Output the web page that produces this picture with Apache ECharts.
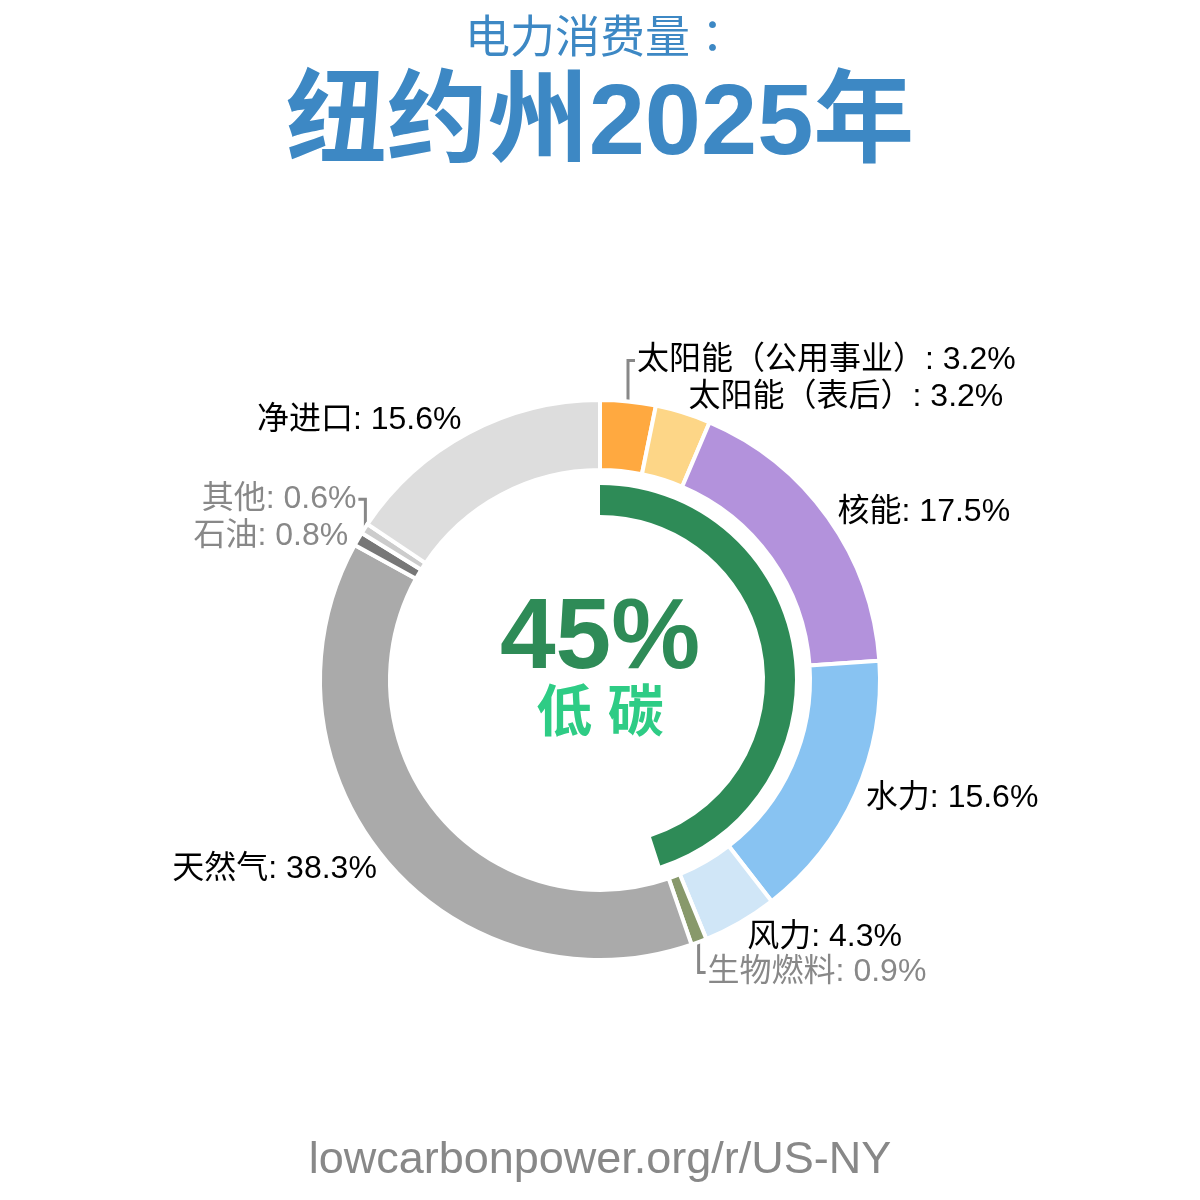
<!DOCTYPE html>
<html>
<head>
<meta charset="utf-8">
<script src="https://cdn.jsdelivr.net/npm/echarts@6/dist/echarts.min.js"></script>
<style>
html,body{margin:0;padding:0;background:#fff;}
#main{width:1200px;height:1200px;}
</style>
</head>
<body>
<div id="main"></div>
<script>
// ---- data ----
const categories = ['太阳能（公用事业）', '太阳能（表后）', '核能', '水力', '风力', '生物燃料', '天然气', '石油', '其他', '净进口'];
const shares = [3.2, 3.2, 17.5, 15.6, 4.3, 0.9, 38.3, 0.8, 0.6, 15.6];
const lowCarbonShare = [45];
const titleSub = '电力消费量：';
const titleMain = '纽约州2025年';
const centerLabel = '低 碳';
const footer = 'lowcarbonpower.org/r/US-NY';

// ---- style ----
const colors = ['#FFA940', '#FDD687', '#B392DC', '#88C3F2', '#D0E6F7', '#88996B', '#AAAAAA', '#777777', '#CCCCCC', '#DDDDDD'];
const minor = [false, false, false, false, false, true, false, true, true, false];
const withLine = [true, false, false, false, false, true, false, false, true, false];
const labelDy = [-33, -8, -1, 0, 8, 23, 4, 1, -25, -6];
const FONT = "'Liberation Sans', 'Noto Sans CJK SC', sans-serif";
const CX = 600, CY = 680, R_OUT = 280, R_IN = 210;

const total = shares.reduce((a, b) => a + b, 0);
const mids = [];
let acc = 0;
shares.forEach(v => { mids.push((acc + v / 2) / total * Math.PI * 2); acc += v; });

const chart = echarts.init(document.getElementById('main'));
chart.setOption({
  backgroundColor: '#ffffff',
  animation: false,
  graphic: [
    { type: 'text', x: 600, y: 41, style: { text: titleSub, fill: '#3D88C4', font: "45px 'Liberation Sans', 'Noto Sans CJK JP', sans-serif", textAlign: 'center', textVerticalAlign: 'middle' } },
    { type: 'text', x: 600, y: 126, style: { text: titleMain, fill: '#3D88C4', font: "bold 101px " + FONT, textAlign: 'center', textVerticalAlign: 'middle' } },
    { type: 'text', x: 600, y: 640, style: { text: lowCarbonShare[0] + '%', fill: '#2E8B57', font: "bold 100px " + FONT, textAlign: 'center', textVerticalAlign: 'middle' } },
    { type: 'text', x: 600, y: 716, style: { text: centerLabel, fill: '#2ECC85', font: "bold 56px " + FONT, textAlign: 'center', textVerticalAlign: 'middle' } },
    { type: 'text', x: 600, y: 1161, style: { text: footer, fill: '#888888', font: "45px " + FONT, textAlign: 'center', textVerticalAlign: 'middle' } }
  ],
  series: [
    {
      type: 'pie',
      center: [CX, CY],
      radius: [R_IN, R_OUT],
      startAngle: 90,
      clockwise: true,
      avoidLabelOverlap: false,
      silent: true,
      itemStyle: { borderColor: '#ffffff', borderWidth: 4 },
      label: {
        show: true,
        position: 'outside',
        formatter: p => p.name + ': ' + p.value.toFixed(1) + '%',
        fontFamily: FONT,
        fontSize: 32,
        color: '#000000'
      },
      labelLine: { show: false, lineStyle: { color: '#888888', width: 3 } },
      labelLayout: function (params) {
        const i = params.dataIndex;
        const a = mids[i];
        const s = Math.sin(a), c = Math.cos(a);
        const sign = s >= 0 ? 1 : -1;
        const align = sign > 0 ? 'left' : 'right';
        if (withLine[i]) {
          const px = CX + (R_OUT - 1) * s;
          const py = CY - (R_OUT - 1) * c;
          const ly = CY - (R_OUT + 8) * c + labelDy[i];
          return {
            x: px + sign * 9, y: ly, align: align, verticalAlign: 'middle',
            labelLinePoints: [[px, py], [px, ly], [px + sign * 7, ly]]
          };
        }
        return {
          x: CX + (R_OUT + 8) * s + sign * 3,
          y: CY - (R_OUT + 8) * c + labelDy[i],
          align: align, verticalAlign: 'middle'
        };
      },
      data: categories.map((name, i) => ({
        name: name,
        value: shares[i],
        itemStyle: { color: colors[i] },
        label: { color: minor[i] ? '#888888' : '#000000' },
        labelLine: { show: withLine[i] }
      }))
    },
    {
      type: 'pie',
      center: [CX, CY],
      radius: [165, 195],
      startAngle: 90,
      clockwise: true,
      silent: true,
      label: { show: false },
      labelLine: { show: false },
      data: [
        { value: lowCarbonShare[0], itemStyle: { color: '#2E8B57' } },
        { value: 100 - lowCarbonShare[0], itemStyle: { color: 'rgba(0,0,0,0)' } }
      ]
    }
  ]
});
</script>
</body>
</html>
